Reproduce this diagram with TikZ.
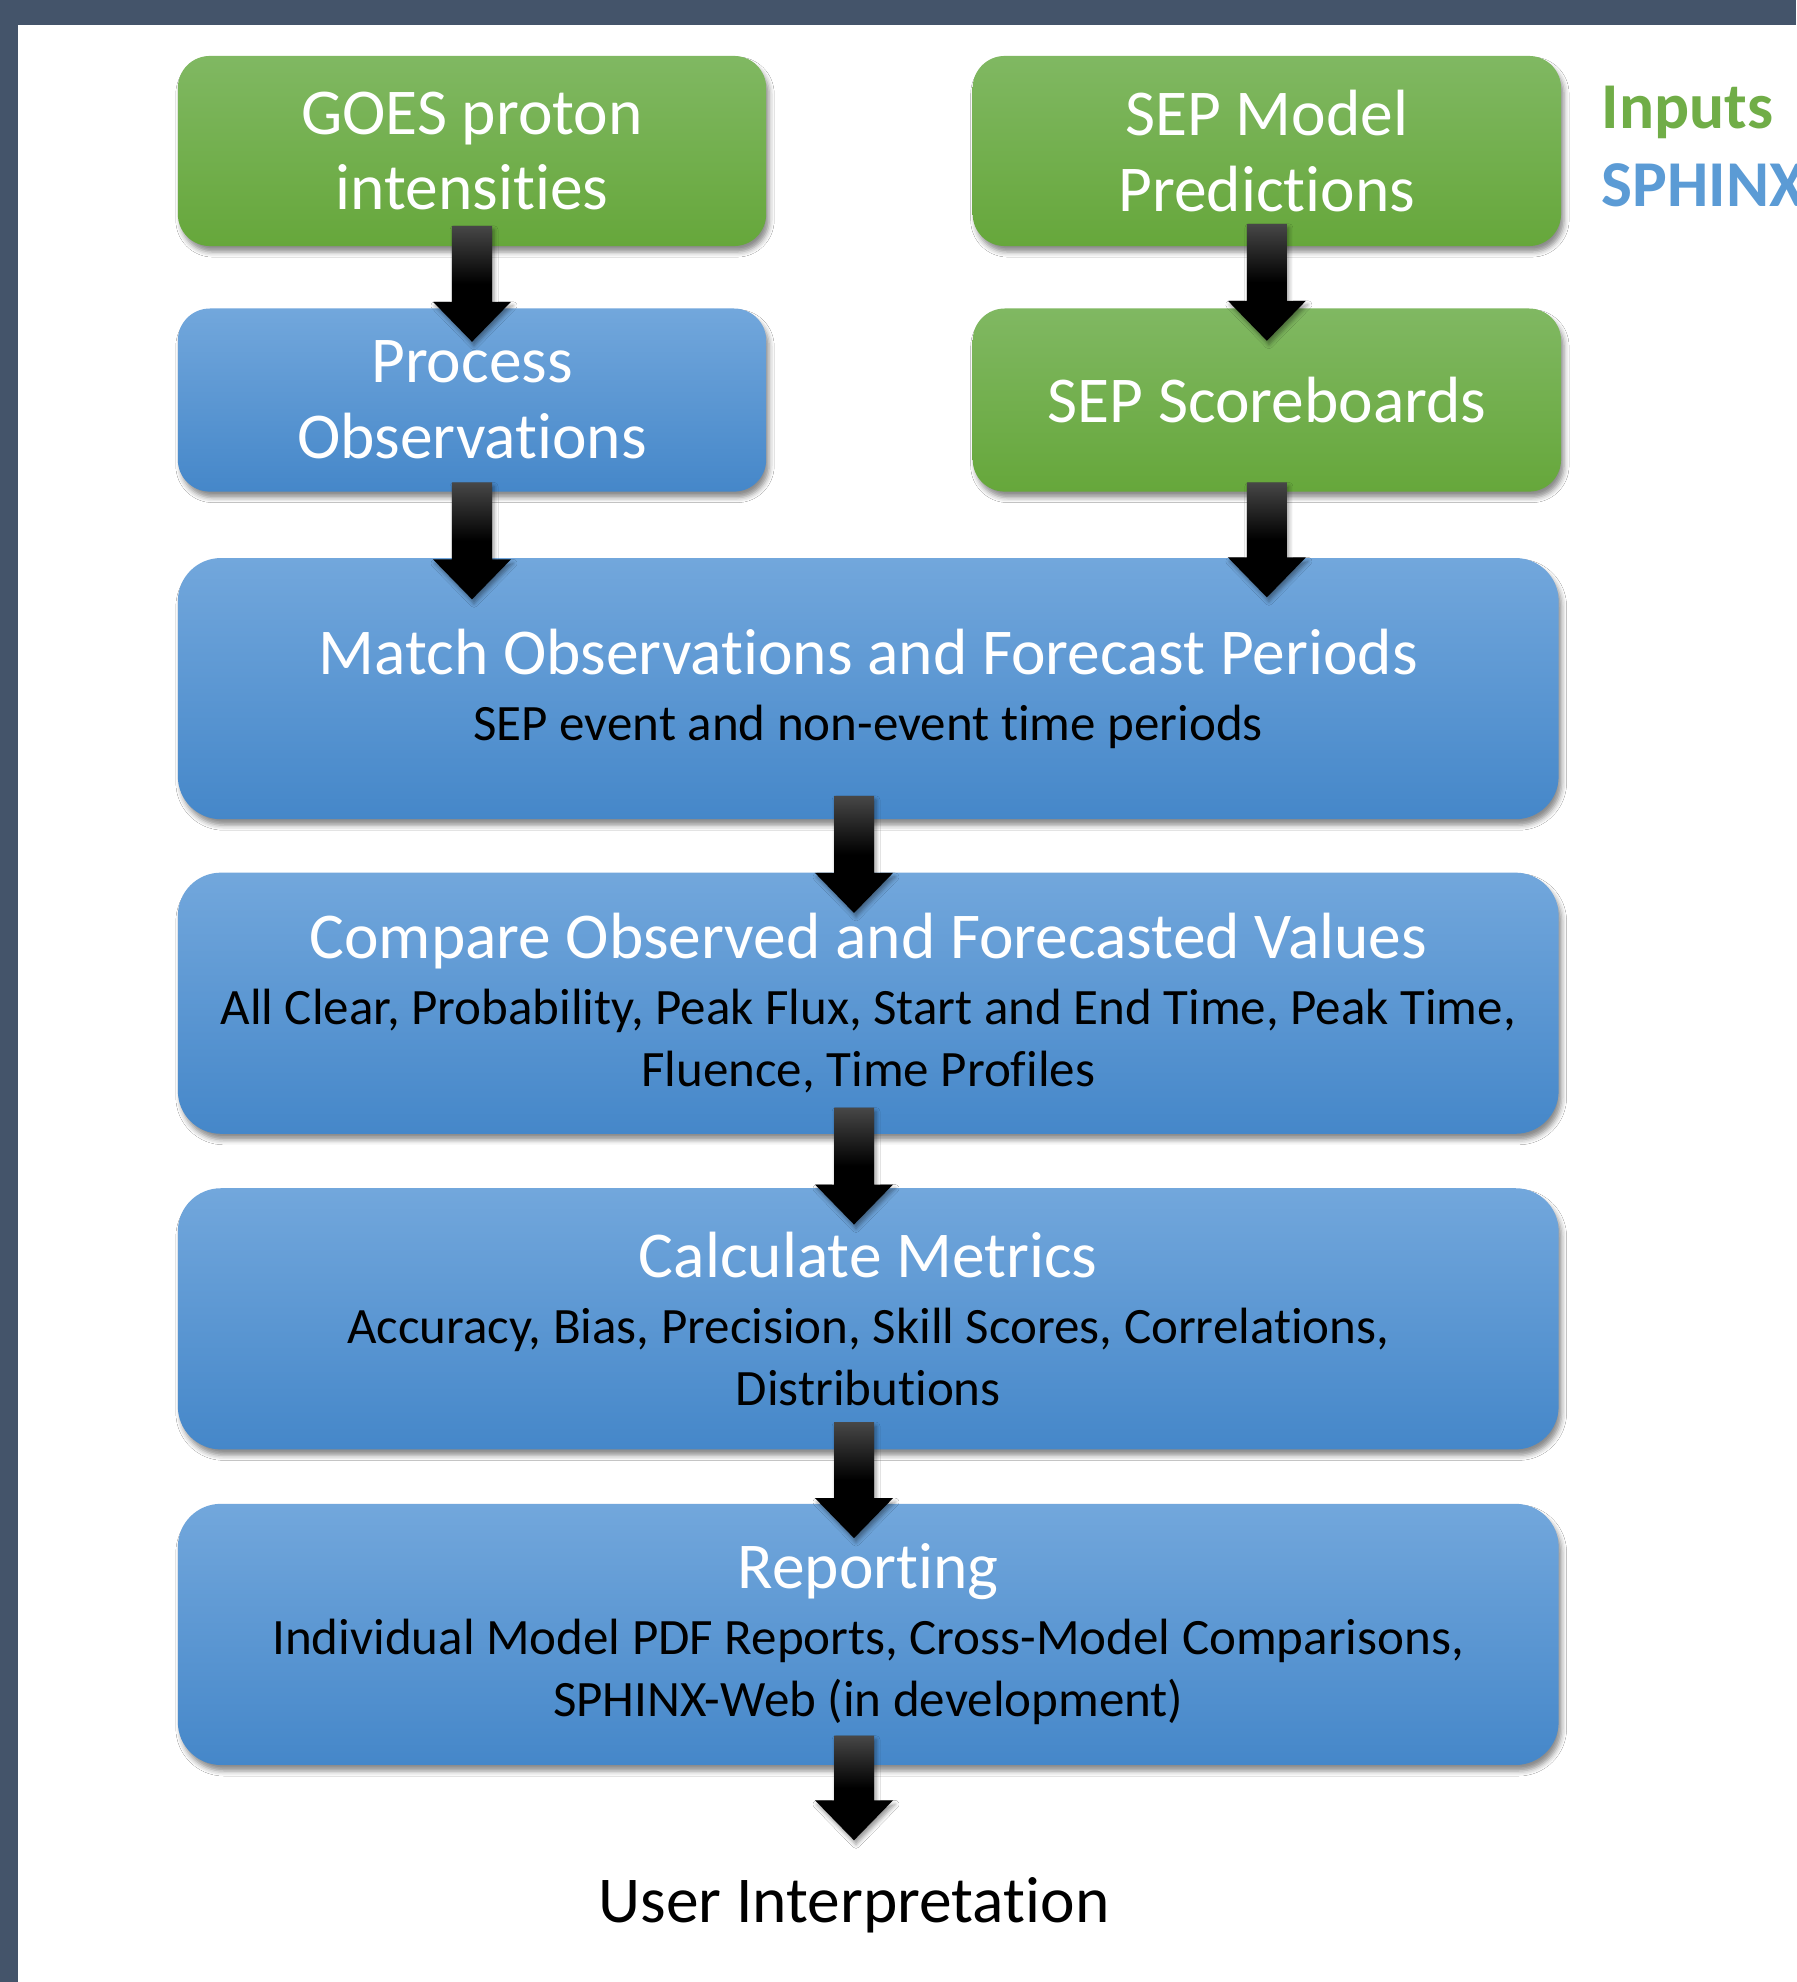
\documentclass[tikz,border=0pt]{standalone}
\usepackage{fontspec}
\setmainfont{Carlito}[Ligatures=NoCommon]
\usetikzlibrary{positioning,calc,shadows.blur}

\definecolor{slate}{HTML}{44546A}
\definecolor{ingreen}{HTML}{70AD47}
\definecolor{sphinxblue}{HTML}{5B9BD5}
\definecolor{greentop}{HTML}{80B862}
\definecolor{greenbot}{HTML}{66A73B}
\definecolor{bluetop}{HTML}{72A7DC}
\definecolor{bluebot}{HTML}{4587C9}

\newcommand{\headfont}{\fontsize{18.6}{21.6}\selectfont}
\newcommand{\subfont}{\fontsize{14.5}{17.6}\selectfont}

\pgfdeclareverticalshading{arrowshade}{100bp}{color(0bp)=(black); color(50bp)=(black); color(75bp)=(black!72); color(100bp)=(black!72)}

\newcommand{\flowarrow}[2]{%
  \path[flowarrow] let \p1=(#1), \p2=(#2) in
    (\x1-0.2cm,\y1) -- (\x1-0.2cm,\y2+0.4cm) -- (\x1-0.39cm,\y2+0.4cm) -- (\x1,\y2)
    -- (\x1+0.39cm,\y2+0.4cm) -- (\x1+0.2cm,\y2+0.4cm) -- (\x1+0.2cm,\y1) -- cycle;}

\begin{document}
\begin{tikzpicture}[
    x=0.01cm, y=-0.01cm,
    inbox/.style={rectangle, rounded corners=0.32cm, top color=greentop, bottom color=greenbot, minimum width=5.88cm, minimum height=1.9cm, inner sep=0pt, align=center, text=white, font=\headfont,
      blur shadow={shadow xshift=0.03cm, shadow yshift=-0.06cm, shadow blur radius=0.05cm, shadow opacity=45}},
    stepbox/.style={inbox, top color=bluetop, bottom color=bluebot, minimum height=1.83cm},
    widebox/.style={stepbox, minimum width=13.8cm, minimum height=2.61cm, rounded corners=0.43cm, font=\subfont, text=black},
    flowarrow/.style={shading=arrowshade, blur shadow={shadow xshift=0.02cm, shadow yshift=-0.04cm, shadow blur radius=0.04cm, shadow opacity=40}}
]
\clip (0,0) rectangle (1796,1982);
\fill[slate] (0,0) rectangle (1796,1982);
\fill[white] (18,25) rectangle (1796,1982);

% Nodes
\node[inbox] (goes) at (472,151) {GOES proton\\intensities};
\node[inbox, right=2.05cm of goes] (model) {SEP Model\\Predictions};
\node[stepbox, below=0.61cm of goes] (proc) {Process\\Observations};
\node[inbox, minimum height=1.83cm, below=0.61cm of model] (score) {SEP Scoreboards};
\node[widebox, below=0.65cm of proc.south west, anchor=north west] (match) {{\color{white}\headfont Match Observations and Forecast Periods}\\[1.2pt]SEP event and non-event time periods};
\node[widebox, below=0.52cm of match] (compare) {{\color{white}\headfont Compare Observed and Forecasted Values}\\[1.2pt]All Clear, Probability, Peak Flux, Start and End Time, Peak Time,\\Fluence, Time Profiles};
\node[widebox, below=0.53cm of compare] (calc) {{\color{white}\headfont Calculate Metrics}\\[1.2pt]Accuracy, Bias, Precision, Skill Scores, Correlations,\\Distributions};
\node[widebox, below=0.53cm of calc] (report) {{\color{white}\headfont Reporting}\\[1.2pt]Individual Model PDF Reports, Cross-Model Comparisons,\\SPHINX-Web (in development)};
\node[font=\headfont, inner sep=0pt, anchor=base] (user) at (854,1922) {User Interpretation};

\node[font=\headfont\bfseries, text=ingreen, inner sep=0pt, anchor=base west] (inputs) at (1601,129) {Inputs};
\node[font=\headfont\bfseries, text=sphinxblue, inner sep=0pt, anchor=base west] (sphinx) at (1601,207) {SPHINX};

% Arrows
\flowarrow{$(goes.south)+(0,-21)$}{$(proc.north)+(0,34)$}
\flowarrow{$(model.south)+(0,-23)$}{$(score.north)+(0,33)$}
\flowarrow{$(proc.south)+(0,-10)$}{$(match.north -| proc.south)+(0,42)$}
\flowarrow{$(score.south)+(0,-10)$}{$(match.north -| score.south)+(0,40)$}
\flowarrow{$(match.south -| user)+(0,-24)$}{$(compare.north -| user)+(0,41)$}
\flowarrow{$(compare.south -| user)+(0,-27)$}{$(calc.north -| user)+(0,37)$}
\flowarrow{$(calc.south -| user)+(0,-28)$}{$(report.north -| user)+(0,35)$}
\flowarrow{$(report.south -| user)+(0,-30)$}{$(user.north)+(0,-36)$}

\end{tikzpicture}
\end{document}
